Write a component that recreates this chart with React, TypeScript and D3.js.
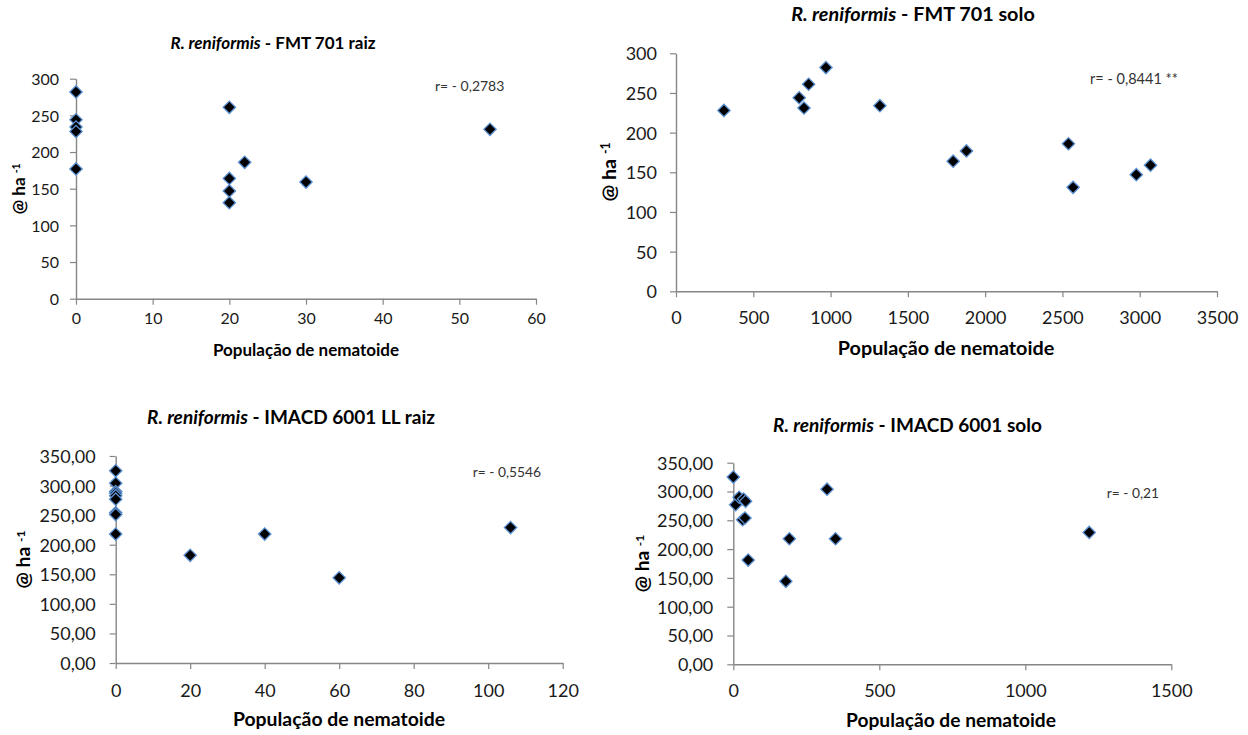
import { useCallback, useEffect, useRef } from 'react';
import {
  axisBottom,
  axisLeft,
  formatLocale,
  scaleLinear,
  select,
  symbol,
  symbolSquare,
} from 'd3';

// R. reniformis - FMT 701 raiz
const fmtRaizPop = [0, 0, 0, 0, 0, 20, 20, 20, 20, 22, 30, 54];
const fmtRaizYield = [282, 244, 234, 228, 177, 261, 164, 147, 131, 186, 159, 231];

// R. reniformis - FMT 701 solo
const fmtSoloPop = [310, 797, 828, 858, 970, 1319, 1793, 1879, 2539, 2569, 2978, 3070];
const fmtSoloYield = [228, 244, 231, 261, 282, 234, 164, 177, 186, 131, 147, 159];

// R. reniformis - IMACD 6001 LL raiz
const imacdRaizPop = [0, 0, 0, 0, 0, 0, 0, 0, 0, 20, 40, 60, 106];
const imacdRaizYield = [325, 304, 290, 287, 283, 277, 254, 251, 218, 182, 218, 144, 229];

// R. reniformis - IMACD 6001 solo
const imacdSoloPop = [0, 8, 20, 35, 42, 32, 40, 51, 180, 192, 321, 350, 1219];
const imacdSoloYield = [325, 277, 290, 287, 283, 251, 254, 181, 144, 218, 304, 218, 229];

const species = 'R. reniformis';
const titles = ['FMT 701 raiz', 'FMT 701 solo', 'IMACD 6001 LL raiz', 'IMACD 6001 solo'];
const correlations = ['r= - 0,2783', 'r= - 0,8441 **', 'r= - 0,5546', 'r= - 0,21'];
const xLabel = 'População de nematoide';

const xTicks1 = [0, 10, 20, 30, 40, 50, 60];
const xTicks2 = [0, 500, 1000, 1500, 2000, 2500, 3000, 3500];
const xTicks3 = [0, 20, 40, 60, 80, 100, 120];
const xTicks4 = [0, 500, 1000, 1500];
const yTicksTop = [0, 50, 100, 150, 200, 250, 300];
const yTicksBottom = [0, 50, 100, 150, 200, 250, 300, 350];

const FONT = 'Lato, "Open Sans", sans-serif';
const AXIS = '#868686';
const br = formatLocale({ decimal: ',', thousands: '.', grouping: [3], currency: ['R$', ''] });

type Panel = {
  pop: number[];
  yld: number[];
  title: string;
  r: string;
  xTicks: number[];
  yTicks: number[];
  yFmt: (d: number) => string;
  box: [number, number, number, number]; // left, right, bottom, top
  tickFont: number;
  titleFont: number;
  labelFont: number;
  rFont: number;
  titlePos: [number, number];
  xLabelPos: [number, number];
  yLabelPos: [number, number];
  rPos: [number, number];
  xPad: number;
  yPad: number;
};

const panels: Panel[] = [
  {
    pop: fmtRaizPop, yld: fmtRaizYield, title: titles[0], r: correlations[0],
    xTicks: xTicks1, yTicks: yTicksTop, yFmt: String,
    box: [76, 536, 298.7, 78.7], tickFont: 16, titleFont: 17, labelFont: 17, rFont: 14,
    titlePos: [273, 49], xLabelPos: [306, 356], yLabelPos: [25, 188.7], rPos: [435, 91],
    xPad: 8, yPad: 11,
  },
  {
    pop: fmtSoloPop, yld: fmtSoloYield, title: titles[1], r: correlations[1],
    xTicks: xTicks2, yTicks: yTicksTop, yFmt: String,
    box: [676, 1217, 291.3, 53.3], tickFont: 18, titleFont: 19.8, labelFont: 19.8, rFont: 14.5,
    titlePos: [913, 21], xLabelPos: [946, 355], yLabelPos: [616, 172], rPos: [1090, 84],
    xPad: 13.5, yPad: 13,
  },
  {
    pop: imacdRaizPop, yld: imacdRaizYield, title: titles[2], r: correlations[2],
    xTicks: xTicks3, yTicks: yTicksBottom, yFmt: br.format('.2f'),
    box: [115.7, 562.7, 663, 456], tickFont: 18, titleFont: 19, labelFont: 19.4, rFont: 13.8,
    titlePos: [291, 424], xLabelPos: [339, 726], yLabelPos: [30, 559.5], rPos: [472.7, 477],
    xPad: 15, yPad: 14,
  },
  {
    pop: imacdSoloPop, yld: imacdSoloYield, title: titles[3], r: correlations[3],
    xTicks: xTicks4, yTicks: yTicksBottom, yFmt: br.format('.2f'),
    box: [733.3, 1171.3, 664.3, 462.7], tickFont: 18, titleFont: 19, labelFont: 19.2, rFont: 13.8,
    titlePos: [907.5, 432], xLabelPos: [951, 727], yLabelPos: [649, 563.5], rPos: [1106.7, 498],
    xPad: 13.5, yPad: 14,
  },
];

export default function App() {
  const containerRef = useRef<HTMLDivElement>(null);

  const initChart = useCallback(() => {
    const container = containerRef.current;
    if (!container) return;

    const div = select(container);
    div.select('svg').remove();

    const svg = div
      .append('svg')
      .attr('width', 1248)
      .attr('height', 735)
      .style('position', 'absolute')
      .style('left', '0px')
      .style('top', '0px')
      .style('font-family', FONT)
      .style('background', '#fff');

    const diamond = symbol().type(symbolSquare).size(76)();

    panels.forEach((p) => {
      const [left, right, bottom, top] = p.box;
      const x = scaleLinear()
        .domain([p.xTicks[0], p.xTicks[p.xTicks.length - 1]])
        .range([left, right]);
      const y = scaleLinear()
        .domain([p.yTicks[0], p.yTicks[p.yTicks.length - 1]])
        .range([bottom, top]);

      const g = svg.append('g');

      // X axis
      const gx = g
        .append('g')
        .attr('transform', `translate(0,${bottom})`)
        .call(
          axisBottom(x)
            .tickValues(p.xTicks)
            .tickFormat((d) => String(d))
            .tickSize(6)
            .tickSizeOuter(0)
            .tickPadding(p.xPad)
        );
      // Y axis
      const gy = g
        .append('g')
        .attr('transform', `translate(${left},0)`)
        .call(
          axisLeft(y)
            .tickValues(p.yTicks)
            .tickFormat((d) => p.yFmt(Number(d)))
            .tickSize(6)
            .tickSizeOuter(0)
            .tickPadding(p.yPad)
        );

      [gx, gy].forEach((ax) => {
        ax.select('.domain').attr('stroke', AXIS).attr('stroke-width', 1.4);
        ax.selectAll('.tick line').attr('stroke', AXIS).attr('stroke-width', 1.2);
        ax.selectAll('.tick text')
          .attr('fill', '#1a1a1a')
          .style('font-family', FONT)
          .style('font-size', `${p.tickFont}px`);
      });
      gy.selectAll('.tick text').attr('dy', '0.36em');

      // Title
      const title = g
        .append('text')
        .attr('x', p.titlePos[0])
        .attr('y', p.titlePos[1])
        .attr('text-anchor', 'middle')
        .style('font-size', `${p.titleFont}px`)
        .style('font-weight', 'bold')
        .attr('fill', '#000');
      title.append('tspan').style('font-style', 'italic').text(species);
      title.append('tspan').text(` - ${p.title}`);

      // X label
      g.append('text')
        .attr('x', p.xLabelPos[0])
        .attr('y', p.xLabelPos[1])
        .attr('text-anchor', 'middle')
        .style('font-size', `${p.labelFont}px`)
        .style('font-weight', 'bold')
        .attr('fill', '#000')
        .text(xLabel);

      // Y label
      const yl = g
        .append('text')
        .attr('transform', `translate(${p.yLabelPos[0]},${p.yLabelPos[1]}) rotate(-90)`)
        .attr('text-anchor', 'middle')
        .style('font-size', `${p.labelFont}px`)
        .style('font-weight', 'bold')
        .attr('fill', '#000');
      yl.append('tspan').text('@ ha ');
      yl.append('tspan')
        .attr('dy', '-0.45em')
        .style('font-size', `${p.labelFont * 0.62}px`)
        .text('-1');

      // correlation
      g.append('text')
        .attr('x', p.rPos[0])
        .attr('y', p.rPos[1])
        .style('font-size', `${p.rFont}px`)
        .attr('fill', '#333')
        .text(p.r);

      // points
      g.append('g')
        .selectAll('path')
        .data(p.pop.map((v, i) => [v, p.yld[i]]))
        .join('path')
        .attr('d', diamond)
        .attr('transform', (d) => `translate(${x(d[0])},${y(d[1])}) rotate(45)`)
        .attr('fill', '#000')
        .attr('stroke', '#5b8fd0')
        .attr('stroke-width', 1.3);
    });
  }, []);

  const destroyChart = useCallback(() => {
    const container = containerRef.current;
    if (!container) return;
    select(container).select('svg').remove();
  }, []);

  useEffect(() => {
    initChart();
    return destroyChart;
  }, [destroyChart, initChart]);

  return <div ref={containerRef} />;
}
